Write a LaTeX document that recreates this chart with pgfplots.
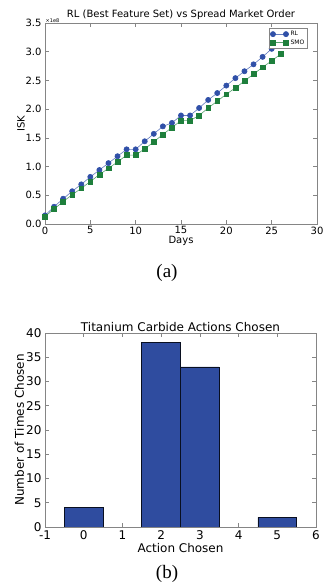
\documentclass[border=0pt]{standalone}
\usepackage{pgfplots}
\pgfplotsset{compat=1.18}
\usepackage{fontspec}
\setmainfont{DejaVu Sans}
\newfontfamily\capfont{Liberation Serif}
\definecolor{rlblue}{HTML}{3050A8}
\definecolor{smogreen}{HTML}{1E7F3C}
\definecolor{barblue}{HTML}{2F4C9F}
\definecolor{framegray}{HTML}{858585}

\pgfplotstableread{
x rl smo
0 0.15 0.13
1 0.30 0.26
2 0.44 0.39
3 0.57 0.51
4 0.69 0.62
5 0.82 0.74
6 0.94 0.86
7 1.06 0.97
8 1.18 1.08
9 1.30 1.20
10 1.30 1.20
11 1.44 1.31
12 1.57 1.43
13 1.70 1.56
14 1.76 1.68
15 1.89 1.80
16 1.89 1.80
17 2.02 1.89
18 2.16 2.02
19 2.28 2.14
20 2.41 2.26
21 2.54 2.37
22 2.66 2.49
23 2.78 2.61
24 2.91 2.73
25 3.05 2.84
26 3.17 2.96
}\isktable

\pgfplotstableread{
x n
0 4
2 38
3 33
5 2
}\actiontable

\begin{document}
\begin{tikzpicture}
\path[use as bounding box] (0pt,0pt) rectangle (323pt,585pt);
\pgfplotsset{
  every axis title shift=0pt,
  mpl/.style={
    scale only axis,
    anchor=south west,
    axis line style={framegray, line width=0.9pt},
    tick style={framegray, line width=0.6pt},
    major tick length=4pt,
    xtick pos=both, ytick pos=both, tick align=inside,
    /pgf/number format/assume math mode=true,
  },
  mleg/.style={
    legend image code/.code={\draw[mark repeat=2,mark phase=1,##1] plot coordinates {(0pt,0pt) (6.5pt,0pt) (13pt,0pt)};}
  }
}
% ---------- (a) ----------
\begin{axis}[mpl, mleg, name=top,
  at={(45pt,361pt)}, width=272pt, height=201pt,
  xmin=0, xmax=30, ymin=0, ymax=3.5,
  xtick={0,5,10,15,20,25,30},
  ytick={0,0.5,1,1.5,2,2.5,3,3.5},
  yticklabel style={/pgf/number format/.cd,fixed,fixed zerofill,precision=1},
  ticklabel style={font=\fontsize{10}{12}\selectfont},
  xticklabel style={inner sep=2.5pt},
  xlabel={Days}, ylabel={ISK},
  label style={font=\fontsize{10}{12}\selectfont},
  xlabel style={at={(0.5,0)}, anchor=center, inner sep=0pt, yshift=-17pt},
  ylabel style={at={([xshift=-24pt]axis description cs:0,0.5)}, anchor=center},
  title={RL (Best Feature Set) vs Spread Market Order},
  title style={font=\fontsize{10}{12}\selectfont, at={(0.5,1)}, anchor=base, yshift=5.5pt},
  legend style={at={(0.965,0.975)}, anchor=north east, font=\fontsize{6}{7}\selectfont,
    draw=framegray, inner sep=1pt, row sep=-1.5pt, cells={anchor=west}},
]
\addplot[rlblue!75!white, line width=0.6pt, mark=*, mark size=2.6pt,
  mark options={fill=rlblue, draw=rlblue}] table[x=x,y=rl] {\isktable};
\addlegendentry{RL}
\addplot[smogreen!75!white, line width=0.6pt, mark=square*, mark size=2.4pt,
  mark options={fill=smogreen, draw=smogreen}] table[x=x,y=smo] {\isktable};
\addlegendentry{SMO}
\end{axis}
\node[anchor=south west, inner sep=0.5pt, font=\fontsize{5}{6}\selectfont] at (top.north west) {×1e8};
\node[font=\capfont\fontsize{19}{22}\selectfont] at (167pt,312.5pt) {(a)};
% ---------- (b) ----------
\begin{axis}[mpl,
  at={(45pt,58pt)}, width=271pt, height=194pt,
  xmin=-1, xmax=6, ymin=0, ymax=40,
  xtick={-1,0,1,2,3,4,5,6},
  ytick={0,5,10,15,20,25,30,35,40},
  ticklabel style={font=\fontsize{12}{14}\selectfont},
  xticklabel style={inner ysep=2pt, yshift=-1.5pt},
  yticklabel style={inner ysep=0.5pt},
  xlabel={Action Chosen}, ylabel={Number of Times Chosen},
  label style={font=\fontsize{12}{14}\selectfont},
  xlabel style={at={(0.5,0)}, anchor=center, inner sep=0pt, yshift=-21pt},
  ylabel style={at={([xshift=-25.5pt]axis description cs:0,0.5)}, anchor=center},
  title={Titanium Carbide Actions Chosen},
  title style={font=\fontsize{12}{14}\selectfont, at={(0.5,1)}, anchor=base, yshift=2pt},
]
\addplot[ybar, bar width=1, bar shift=0pt, fill=barblue, draw=black!80!barblue, line width=0.6pt]
  table[x=x,y=n] {\actiontable};
\end{axis}
\node[font=\capfont\fontsize{19}{22}\selectfont] at (167pt,11.5pt) {(b)};
\end{tikzpicture}
\end{document}
